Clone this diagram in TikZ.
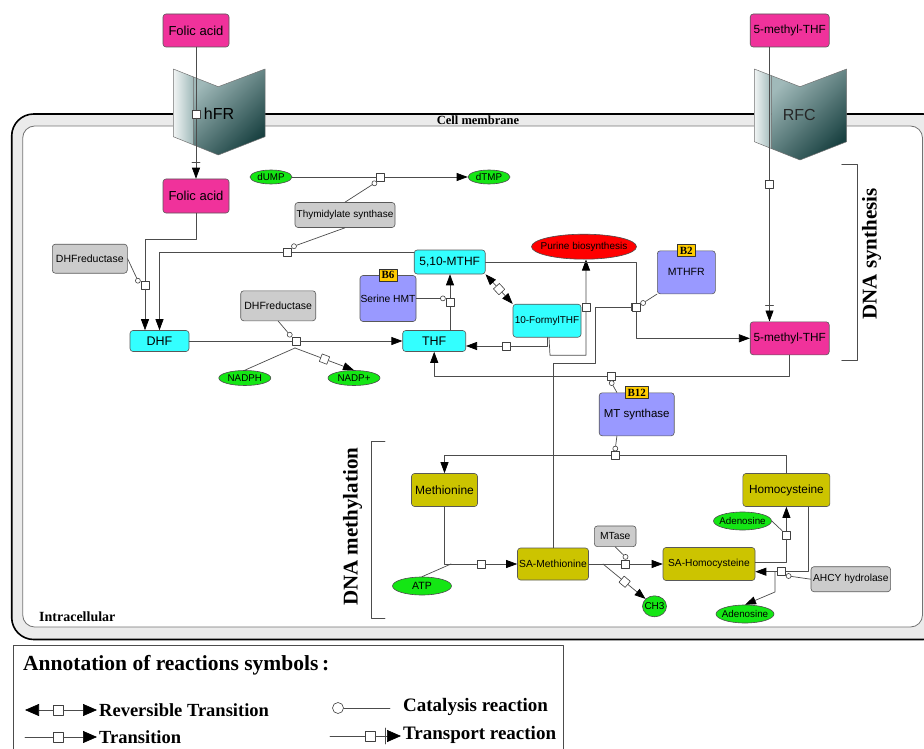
\documentclass[tikz,border=0pt]{standalone}
\usepackage{fontspec}
\setmainfont{Liberation Sans}
\newfontfamily\timesfont{Liberation Serif}
\usetikzlibrary{arrows.meta, calc, positioning, shapes.geometric}

\definecolor{folpink}{RGB}{240,50,155}
\definecolor{thfcyan}{RGB}{51,255,255}
\definecolor{enzblue}{RGB}{153,153,255}
\definecolor{enzgray}{RGB}{204,204,204}
\definecolor{metolive}{RGB}{204,196,0}
\definecolor{smgreen}{RGB}{20,230,20}
\definecolor{purred}{RGB}{255,0,0}
\definecolor{vitgold}{RGB}{255,204,0}
\definecolor{tpdark}{RGB}{25,65,65}
\definecolor{tplight}{RGB}{160,185,185}

\newcommand{\zw}[1]{\makebox[0pt]{#1}}

\begin{document}
\begin{tikzpicture}[line cap=round,line join=round,>={Triangle[length=11pt,width=8pt,color=black]},x=1pt,y=-1pt,
  fs/.style={font=\fontsize{#1}{#1}\selectfont},
  lbl/.style={font=\timesfont\bfseries\fontsize{#1}{#1}\selectfont, inner sep=0pt},
  box/.style={draw=black!65, line width=0.6pt, rounded corners=3pt, inner sep=0pt, align=center},
  pinkbox/.style={box, fill=folpink},
  cyanbox/.style={box, fill=thfcyan},
  bluebox/.style={box, fill=enzblue},
  graybox/.style={box, fill=enzgray},
  olivebox/.style={box, fill=metolive},
  oval/.style={ellipse, draw=black!70, line width=0.6pt, inner sep=0pt, fill=smgreen, fs=9.8},
  vit/.style={lbl=11, draw=black!80, fill=vitgold, line width=0.6pt, inner xsep=2.5pt, minimum height=12pt},
  sq/.style={draw=black!75, fill=white, line width=0.6pt, minimum size=8pt, inner sep=0pt},
  cat/.style={circle, draw=black!75, fill=white, line width=0.6pt, minimum size=5pt, inner sep=0pt},
  rx/.style={draw=black!70, line width=0.7pt}]
\useasboundingbox (0,0) rectangle (924,749);
\clip (0,0) rectangle (924,749);

% cell membrane
\draw[line width=1.6pt, fill=gray!16, rounded corners=22pt] (11.7,114) rectangle (945,639.5);
\draw[line width=0.8pt, draw=black!55, fill=white, rounded corners=12pt] (22.7,126) rectangle (922.5,627);

% transporters
\draw[draw=black!55, line width=0.5pt, left color=white!85!tplight, right color=tplight]
  (173.3,69) -- (193.3,76.9) -- (193.3,144.8) -- (173.3,136.7) -- cycle;
\draw[draw=black!55, line width=0.5pt, top color=tplight, bottom color=tpdark, shading angle=45]
  (193.3,76.9) -- (218.3,86.7) -- (265,69) -- (265,136.7) -- (218.3,155) -- (193.3,144.8) -- cycle;
\draw[draw=black!55, line width=0.5pt, left color=white!85!tplight, right color=tplight]
  (754.3,69) -- (771.7,75.7) -- (771.7,148.7) -- (754.3,141.7) -- cycle;
\draw[draw=black!55, line width=0.5pt, top color=tplight, bottom color=tpdark, shading angle=45]
  (771.7,75.7) -- (800,86.7) -- (846.7,69) -- (846.7,141.7) -- (800,160) -- (771.7,148.7) -- cycle;

% species
\node[pinkbox, minimum width=66, minimum height=33, fs=13] (fa1) at (196,30.5) {Folic acid};
\node[pinkbox, minimum width=66, minimum height=34, fs=13] (fa2) at (196,196) {Folic acid};
\node[pinkbox, minimum width=79, minimum height=33, fs=11.8] (mth1) at (789.7,30.5) {5-methyl-THF};
\node[pinkbox, minimum width=79, minimum height=33, fs=11.8] (mth2) at (789.7,338.3) {5-methyl-THF};

\node[cyanbox, minimum width=59, minimum height=21, fs=12.5] (dhf) at (159.5,341) {DHF};
\node[cyanbox, minimum width=63, minimum height=21, fs=12.5] (thf) at (434.2,341) {THF};
\node[cyanbox, minimum width=71, minimum height=24, fs=12] (mthf) at (449.7,262) {5,10-MTHF};
\node[cyanbox, minimum width=68, minimum height=33, fs=10] (fthf) at (547,320.7) {10-FormylTHF};

\node[bluebox, minimum width=56, minimum height=46, fs=10.3] (shmt) at (388,298.5) {Serine HMT};
\node[bluebox, minimum width=58, minimum height=43, fs=10.5] (mthfr) at (686.3,272.3) {MTHFR};
\node[bluebox, minimum width=75, minimum height=43, fs=11.5] (mts) at (636.7,414.3) {MT synthase};
\node[vit] (b6) at (shmt.north) {B6};
\node[vit] (b2) at (mthfr.north) {B2};
\node[vit] (b12) at (mts.north) {B12};

\node[graybox, minimum width=75, minimum height=29, fs=10.5] (dhfr1) at (89.8,258.7) {DHFreductase};
\node[graybox, minimum width=75, minimum height=30, fs=10.5] (dhfr2) at (278.2,305.8) {DHFreductase};
\node[graybox, minimum width=100, minimum height=25, fs=10] (ts) at (345,215) {Thymidylate synthase};
\node[graybox, minimum width=41.6, minimum height=20.7, fs=10.3] (mtase) at (615.2,536.3) {MTase};
\node[graybox, minimum width=79.6, minimum height=25, fs=10.2] (ahcy) at (850.8,579.2) {AHCY hydrolase};

\node[olivebox, minimum width=66, minimum height=33, fs=12] (met) at (444.5,490) {Methionine};
\node[olivebox, minimum width=87, minimum height=33, fs=11.8] (hcy) at (786.4,490) {Homocysteine};
\node[olivebox, minimum width=71, minimum height=32, fs=10.3] (sam) at (553,564) {SA-Methionine};
\node[olivebox, minimum width=92, minimum height=33, fs=10.2] (sah) at (709,564) {SA-Homocysteine};

\node[oval, minimum width=42, minimum height=14] (dump) at (271,177) {\zw{dUMP}};
\node[oval, minimum width=42, minimum height=14] (dtmp) at (489,177) {\zw{dTMP}};
\node[oval, minimum width=52, minimum height=15] (nadph) at (244.8,378) {\zw{NADPH}};
\node[oval, minimum width=52, minimum height=15] (nadp) at (354,378) {\zw{NADP+}};
\node[oval, minimum width=59, minimum height=18, fs=10.5] (atp) at (422,586) {\zw{ATP}};
\node[oval, minimum width=58, minimum height=18] (ado1) at (742.5,521) {\zw{Adenosine}};
\node[oval, minimum width=58, minimum height=18] (ado2) at (745,614) {\zw{Adenosine}};
\node[oval, minimum width=24, minimum height=21, fs=10] (ch3) at (654.5,606.3) {\zw{CH3}};
\node[oval, fill=purred, minimum width=105, minimum height=25, fs=10] (purine) at (584,246.7) {\zw{Purine biosynthesis}};

% reaction boxes
\node[sq] (t1) at (196,114) {};
\node[sq] (t2) at (769.5,184) {};
\node[sq] (r1) at (145,285) {};
\node[sq] (r2) at (380.7,177) {};
\node[sq] (r3) at (287.7,252.5) {};
\node[sq] (r4) at (296,341) {};
\node[sq] (r5) at (450,302.7) {};
\node[sq] (r6) at (636,307.3) {};
\node[sq] (r7) at (611.7,376) {};
\node[sq] (r8) at (615.3,455.7) {};
\node[sq] (r9) at (625.5,564) {};
\node[sq] (r10) at (781.5,571.7) {};
\node[sq] (r11) at (506,346) {};
\node[sq] (r12) at (586,307) {};
\node[sq] (r13) at (480.8,564) {};
\node[sq] (r14) at (786.4,535) {};

\coordinate (b1) at (145,239);
\coordinate (b2) at (550,355.3);
\coordinate (k1) at (595,363.3);
\coordinate (n1) at (295,348);
\coordinate (a1) at (451,564);
\coordinate (s1) at (603,564);
\coordinate (h1) at (775,592);

\node[sq, rotate=-47] (d1) at ($(mthf.south east)!0.5!(fthf.north west)$) {};
\node[sq, rotate=-40] (d2) at ($(s1)!0.42!(ch3)$) {};
\node[sq, rotate=-21] (d3) at ($(n1)!0.5!(nadp.north)$) {};

\node[cat, left=0pt of r1.north west] (c1) {};
\node[cat, below left=0pt of r2.south west] (c2) {};
\node[cat, above right=0pt of r3.north east] (c3) {};
\node[cat, above left=0pt of r4.north west] (c4) {};
\node[cat, left=0pt of r5.north west] (c5) {};
\node[cat, right=0pt of r6.north east] (c6) {};
\node[cat, below=0pt of r7] (c7) {};
\node[cat, above=0pt of r8] (c8) {};
\node[cat, above=0pt of r9] (c9) {};
\node[cat, right=0pt of r10.south east] (c10) {};

% transport
\draw[rx,->] (fa1) -- (t1) -- (fa2);
\draw[rx] ($(fa2.north)+(-4,-16)$) -- ++(8,0);
\draw[rx,->] (mth1.south -| t2) -- (t2) -- (t2 |- mth2.north);
\draw[rx] ($(t2 |- mth2.north)+(-4,-16)$) -- ++(8,0);

% folate cycle
\draw[rx,->] (dump) -- (r2) -- (dtmp);
\draw[rx] (ts.north) -- (c2);
\draw[rx,->] (r3 -| mthf.west) -- (r3) -| (dhf.north);
\draw[rx] (ts.south) -- (c3);
\draw[rx,->] (fa2.south) |- (b1) -- (r1) -- (r1 |- dhf.north);
\draw[rx] (dhfr1.east) -- (c1);
\draw[rx,->] (dhf) -- (r4) -- (thf);
\draw[rx] (dhfr2.south) -- (c4);
\draw[rx] (nadph.north) -- (n1);
\draw[rx,->] (n1) -- (d3) -- (nadp.north);
\draw[rx,->] (thf.north -| r5) -- (r5) -- (r5 |- mthf.south);
\draw[rx] (shmt.east) -- (c5);
\draw[rx,->] (d1) -- (mthf.south east);
\draw[rx,->] (d1) -- (fthf.north west);
\draw[rx,->] (fthf.south) |- (r11) -- (r11 -| thf.east);
\draw[rx,->] ([xshift=2pt]fthf.south) -- (b2) -| (r12) -- (r12 |- purine.south);
\draw[rx,->] (mthf.east) -| (r6) |- (mth2.west);
\draw[rx] (mthfr.south west) -- (c6);
\draw[rx,-{Bar[width=8pt]}] (sam.north) |- (k1) |- (r6.west);
\draw[rx,->] (mth2.south) |- (r7) -| (thf.south);
\draw[rx] ($(mts.north west)+(18,0)$) -- (c7);

% methionine cycle
\draw[rx,->] (hcy.north) |- (r8) -| (met.north);
\draw[rx] ($(mts.south west)+(18,0)$) -- (c8);
\draw[rx,->] (met.south) |- (r13) -- (sam.west);
\draw[rx] (atp.north) -- (a1);
\draw[rx,->] (sam.east) -- (r9) -- (sah.west);
\draw[rx,->] (s1) -- (d2) -- (ch3);
\draw[rx] (mtase.south) -- (c9);
\draw[rx,->] ([yshift=2pt]sah.east) -| (r14) -- (hcy.south);
\draw[rx] (ado1.east) -- (r14.north west);
\draw[rx,->] ([xshift=22pt]hcy.south) |- (r10) -- (r10 -| sah.east);
\draw[rx] (ahcy.west) -- (c10);
\draw[rx,->] (r10.west -| h1) -- (h1) -- (ado2.north);

% brackets
\draw[line width=0.8pt, draw=black!70] (841.7,164.3) -- (857.3,164.3) -- (857.3,360) -- (841.7,360);
\draw[line width=0.8pt, draw=black!70] (385,441.7) -- (371.7,441.7) -- (371.7,618.3) -- (385,618.3);

% labels
\node[fs=16] (hfr) at (219,114) {hFR};
\node[fs=16, text=black!85] (rfc) at (799.3,115) {RFC};
\node[lbl=12.5] (cellmem) at (478,120.5) {Cell membrane};
\node[lbl=14, anchor=west] (intra) at (39,617) {Intracellular};
\node[lbl=21, rotate=90] (dnasyn) at (871.7,254) {DNA synthesis};
\node[lbl=21, rotate=90] (dnamet) at (352.7,526.7) {DNA methylation};

% legend
\draw[line width=1pt, draw=black!70] (13,645) rectangle (563,760);
\node[lbl=21.5, anchor=west] (legtitle) at (23,665) {Annotation of reactions symbols\,:};
\begin{scope}[>={Triangle[length=14pt,width=12pt,color=black]}]
\coordinate (lg1a) at (25,710);
\coordinate (lg1b) at (97,710);
\node[sq, minimum size=10pt] (lgs1) at (58,710) {};
\draw[rx,->] (lgs1) -- (lg1a);
\draw[rx,->] (lgs1) -- (lg1b);
\node[lbl=18.5, anchor=west] (lgt1) at (99,710) {Reversible Transition};

\coordinate (lg2a) at (25,737);
\coordinate (lg2b) at (97,737);
\node[sq, minimum size=10pt] (lgs2) at (58,737) {};
\draw[rx,->] (lg2a) -- (lgs2) -- (lg2b);
\node[lbl=18.5, anchor=west] (lgt2) at (99,737) {Transition};

\node[cat, minimum size=11pt] (lgc) at (338,708) {};
\coordinate (lg3b) at (390,708);
\draw[rx] (lgc) -- (lg3b);
\node[lbl=19, anchor=west] (lgt3) at (403,707) {Catalysis reaction};

\coordinate (lg4a) at (330,736);
\coordinate (lg4b) at (401,736);
\node[sq, minimum size=10pt] (lgs4) at (370,736) {};
\draw[rx,->] (lg4a) -- (lgs4) -- (lg4b);
\draw[rx] ($(lg4b)+(-16,-8)$) -- ++(0,16);
\node[lbl=19, anchor=west] (lgt4) at (403,735) {Transport reaction};
\end{scope}
\end{tikzpicture}
\end{document}
